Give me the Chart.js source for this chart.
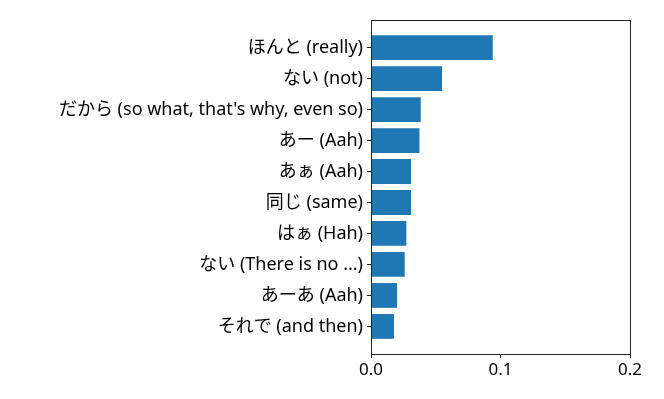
<!DOCTYPE html>
<html>
<head>
<meta charset="utf-8">
<script src="https://cdn.jsdelivr.net/npm/chart.js@4"></script>
<style>
  html, body { margin: 0; padding: 0; background: #fff; }
  #wrap { width: 664px; height: 399px; }
</style>
</head>
<body>
<div id="wrap"><canvas id="chart" width="664" height="399"></canvas></div>
<script>
// words, top to bottom
const labels = [
    'ほんと (really)',
    'ない (not)',
    'だから (so what, that\'s why, even so)',
    'あー (Aah)',
    'あぁ (Aah)',
    '同じ (same)',
    'はぁ (Hah)',
    'ない (There is no ...)',
    'あーあ (Aah)',
    'それで (and then)'
];
const values = [0.094, 0.0549, 0.0384, 0.0374, 0.0309, 0.0309, 0.0273, 0.026, 0.0201, 0.0178];
const xTicks = [0, 0.1, 0.2];

const FONT = "'Noto Sans', 'Noto Sans CJK JP', sans-serif";

// draws the box around the plot area
const frame = {
    id: 'frame',
    afterDraw(chart) {
        const { ctx, chartArea: a } = chart;
        ctx.save();
        ctx.strokeStyle = '#222';
        ctx.lineWidth = 1;
        ctx.strokeRect(Math.round(a.left) + 0.5, Math.round(a.top) + 0.5,
            Math.round(a.right - a.left), Math.round(a.bottom - a.top));
        ctx.restore();
    }
};

new Chart(document.getElementById('chart'), {
    type: 'bar',
    data: {
        datasets: [{
            data: values.map((v, i) => ({ x: v, y: i })),
            backgroundColor: '#1f77b4',
            borderWidth: 0,
            barPercentage: 0.8,
            categoryPercentage: 1
        }]
    },
    options: {
        indexAxis: 'y',
        responsive: false,
        animation: false,
        layout: { padding: { top: 20, right: 34, left: 0, bottom: 0 } },
        plugins: { legend: { display: false }, tooltip: { enabled: false } },
        scales: {
            x: {
                type: 'linear',
                min: 0,
                max: 0.2,
                afterBuildTicks: (scale) => { scale.ticks = xTicks.map(v => ({ value: v })); },
                afterFit: (scale) => { scale.height = 45; },
                ticks: {
                    color: '#000',
                    padding: 2,
                    font: { family: FONT, size: 17 },
                    callback: (v) => Number(v).toFixed(1)
                },
                grid: { drawOnChartArea: false, tickLength: 4, color: '#222' },
                border: { display: false }
            },
            y: {
                type: 'linear',
                reverse: true,
                offset: false,
                min: -0.89,
                max: 9.89,
                afterBuildTicks: (scale) => { scale.ticks = labels.map((_, i) => ({ value: i })); },
                afterFit: (scale) => { scale.width = 371; },
                ticks: {
                    color: '#000',
                    padding: 4,
                    autoSkip: false,
                    font: { family: FONT, size: 18 },
                    callback: (v) => labels[v]
                },
                grid: { drawOnChartArea: false, offset: false, tickLength: 4, color: '#222' },
                border: { display: false }
            }
        }
    },
    plugins: [frame]
});
</script>
</body>
</html>
